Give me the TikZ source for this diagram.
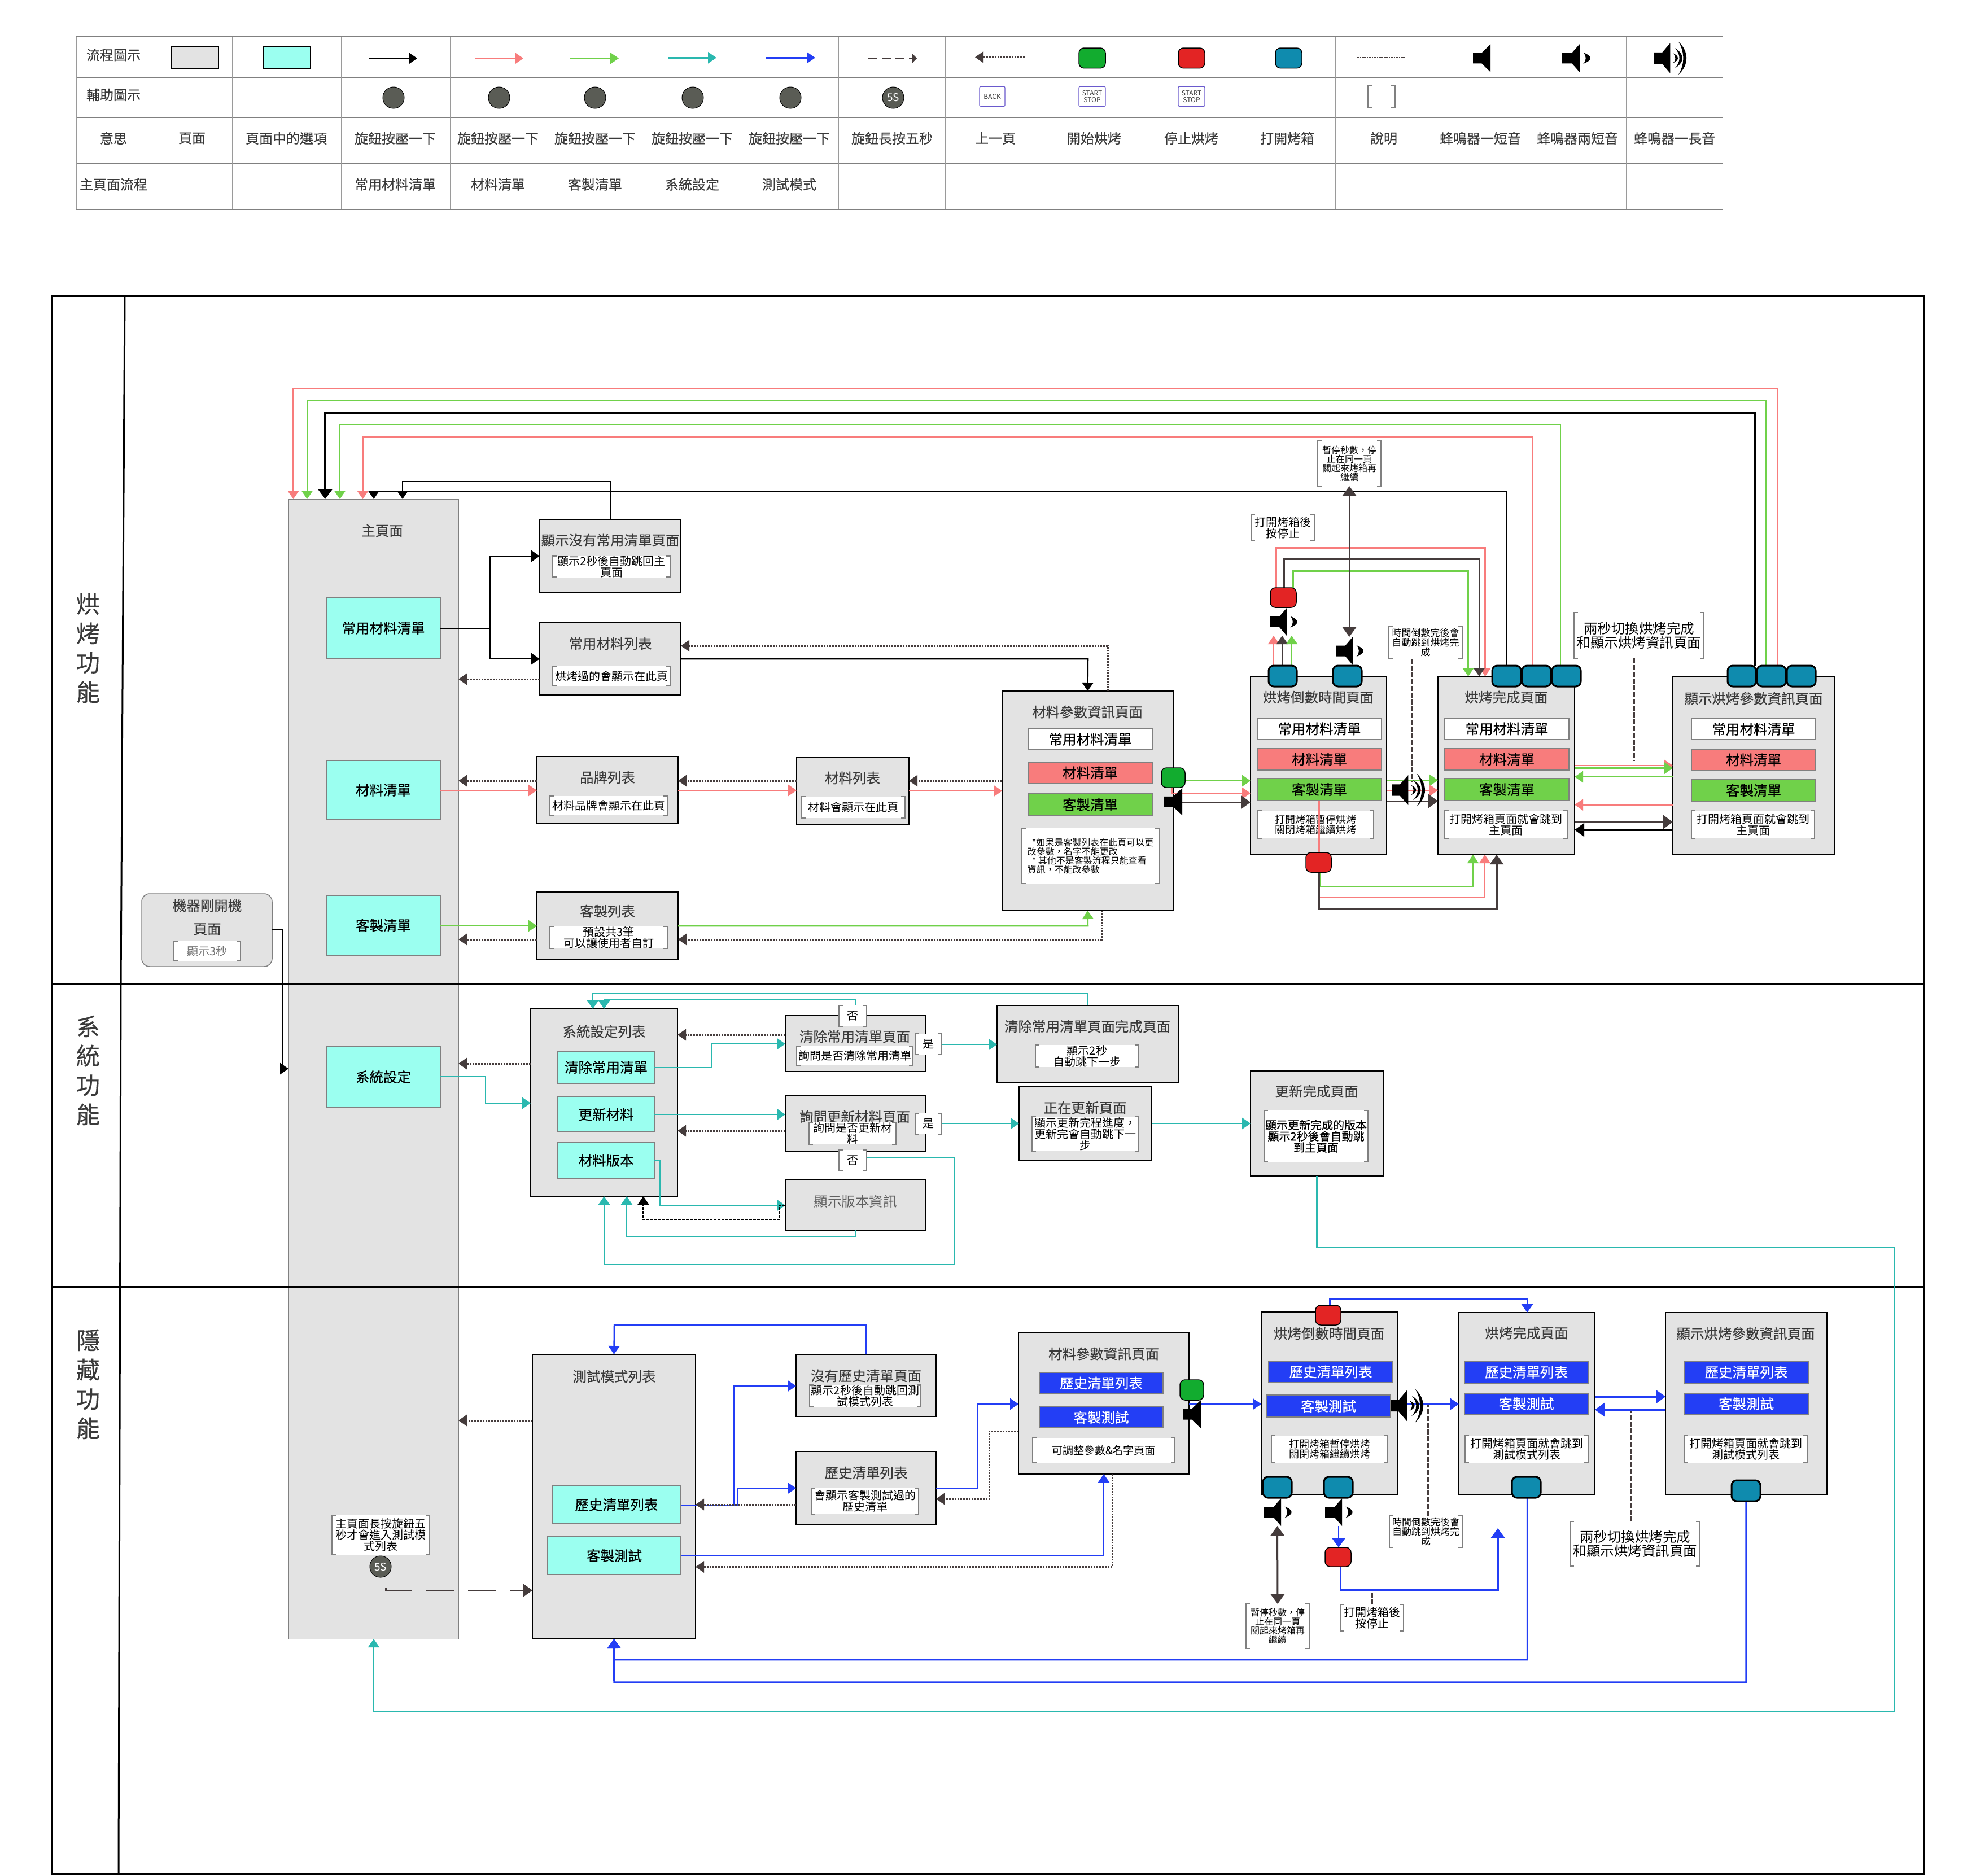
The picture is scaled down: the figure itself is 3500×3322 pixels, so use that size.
\documentclass[tikz,border=0pt]{standalone}
\usepackage{fontspec}
\setmainfont{Noto Sans CJK TC}
\newfontfamily\medf[FakeBold=0.45]{Noto Sans CJK TC}
\newfontfamily\ttlf[FakeBold=0.15]{Noto Sans CJK TC}
\usetikzlibrary{arrows.meta,calc}
\pgfdeclarelayer{fg}\pgfsetlayers{main,fg}
\definecolor{pinkc}{HTML}{F87C7C}
\definecolor{greenc}{HTML}{70D14A}
\definecolor{tealc}{HTML}{2AB8AF}
\definecolor{bluec}{HTML}{233EF5}
\definecolor{darkc}{HTML}{453C3C}
\definecolor{pagec}{HTML}{E3E3E3}
\definecolor{cyanc}{HTML}{9BFFF0}
\definecolor{btngreen}{HTML}{12AC2F}
\definecolor{btnred}{HTML}{E32424}
\definecolor{btnteal}{HTML}{0F8BAE}
\definecolor{inkc}{HTML}{3A3A3A}
\definecolor{linec}{HTML}{808080}
\definecolor{knobc}{HTML}{5A5C55}
\definecolor{purplec}{HTML}{6A5ACD}
\newcommand\fs[1]{\fontsize{#1}{#1}\selectfont\lineskiplimit=-50pt\relax}
\newcommand\bx[7]{%
  \pgfmathsetmacro\bw{#5-#3}\pgfmathsetmacro\bh{#6-#4}%
  \pgfmathsetmacro\bxc{(#3+#5)/2}\pgfmathsetmacro\byc{(#4+#6)/2}%
  \node[#1,minimum width=\bw pt,minimum height=\bh pt] (#2) at (\bxc,\byc) {#7};}
\newcommand\nt[7]{%
  \bx{notebx,#1}{#2}{#3}{#4}{#5}{#6}{#7}%
  \draw[brk] (#2.north west) ++(7,0) -- ++(-7,0) -- (#2.south west) -- ++(7,0);%
  \draw[brk] (#2.north east) ++(-7,0) -- ++(7,0) -- (#2.south east) -- ++(-7,0);}
\newcommand\fgbtn[6]{\begin{pgfonlayer}{fg}\bx{#1}{#2}{#3}{#4}{#5}{#6}{}\end{pgfonlayer}}
\newcommand\spk[6]{%
  \pgfmathsetmacro\sw{#5-#3}\pgfmathsetmacro\sh{#6-#4}%
  \pgfmathsetmacro\scx{(#3+#5)/2}\pgfmathsetmacro\scy{(#4+#6)/2}%
  \node[minimum width=\sw pt,minimum height=\sh pt] (#2) at (\scx,\scy) {};%
  \begin{pgfonlayer}{fg}\begin{scope}[shift={(#3,#4)},x=\sw pt,y=-\sh pt]%
  \ifcase#1\or
    \fill[black] (0,.31)--(.5,.31)--(1,0)--(1,1)--(.5,.69)--(0,.69)--cycle;
  \or
    \fill[black] (0,.31)--(.36,.31)--(.64,0)--(.64,1)--(.36,.69)--(0,.69)--cycle;
    \fill[black] (.78,.3) .. controls (1.12,.42) and (1.12,.58) .. (.78,.7) .. controls (.9,.58) and (.9,.42) .. (.78,.3);
  \or
    \fill[black] (0,.33)--(.24,.33)--(.48,.05)--(.48,.95)--(.24,.67)--(0,.67)--cycle;
    \fill[black] (.56,.35) .. controls (.76,.44) and (.76,.56) .. (.56,.65) .. controls (.66,.56) and (.66,.44) .. (.56,.35);
    \fill[black] (.62,.2) .. controls (.92,.38) and (.92,.62) .. (.62,.8) .. controls (.8,.62) and (.8,.38) .. (.62,.2);
    \fill[black] (.72,0) .. controls (1.05,.3) and (1.05,.7) .. (.72,1) .. controls (.92,.7) and (.92,.3) .. (.72,0);
  \fi
  \end{scope}\end{pgfonlayer}}
\newcommand\lgd[5]{\coordinate (#2a) at (#3,#5);\coordinate (#2b) at (#4,#5);\draw[#1] (#2a) -- (#2b);}
\begin{document}
\begin{tikzpicture}[x=1pt,y=-1pt,
  every node/.style={inner sep=0pt,outer sep=0pt,align=center},
  >={Triangle[length=15pt,width=20pt]},
  f16/.style={font=\fs{16}}, f17/.style={font=\fs{17}}, f18/.style={font=\fs{18}},
  f19/.style={font=\fs{19}}, f20/.style={font=\fs{20}},
  ttl/.style={font=\fs{24.5}\ttlf,text=inkc},
  cell/.style={font=\fs{24}\ttlf,text=inkc},
  pageb/.style={fill=pagec,draw=black,line width=1.5pt},
  mainb/.style={fill=pagec,draw=linec,line width=1pt},
  itemb/.style={fill=cyanc,draw=linec,line width=1.5pt,font=\fs{24.5}\medf,text=black},
  wht/.style={fill=white,draw=linec,line width=1.5pt,font=\fs{24.5}\medf,text=black},
  rdi/.style={fill=pinkc,draw=linec,line width=1.5pt,font=\fs{24.5}\medf,text=black},
  gri/.style={fill=greenc,draw=linec,line width=1.5pt,font=\fs{24.5}\medf,text=black},
  bli/.style={fill=bluec,draw=linec,line width=1.5pt,font=\fs{24.5}\medf,text=white},
  notebx/.style={fill=white,text=black},
  brk/.style={draw=linec,line width=2.5pt},
  btng/.style={fill=btngreen,draw=black,line width=1.5pt,rounded corners=9pt},
  btnr/.style={fill=btnred,draw=black,line width=1.5pt,rounded corners=9pt},
  btnt/.style={fill=btnteal,draw=black,line width=3pt,rounded corners=9pt},
  knob/.style={circle,fill=knobc,draw=black,line width=1pt,minimum size=38pt,text=white,font=\fs{19}},
  keyb/.style={fill=white,draw=purplec,line width=1.2pt,rounded corners=2pt,font=\fs{12},text=inkc},
  pk/.style={draw=pinkc,line width=2.5pt,->},
  gn/.style={draw=greenc,line width=2.5pt,->},
  bk/.style={draw=black,line width=2.5pt,->},
  dk/.style={draw=darkc,line width=3pt,->},
  tl/.style={draw=tealc,line width=2.5pt,->},
  bu/.style={draw=bluec,line width=2.5pt,->},
  dt/.style={draw=darkc,line width=3pt,dash pattern=on 3pt off 2pt,->},
  dsl/.style={draw=darkc,line width=3pt,dash pattern=on 9pt off 3pt},
  big/.style={>={Triangle[length=17pt,width=24pt]}},
]
\useasboundingbox (0,0) rectangle (3500,3322);
\fill[white] (0,0) rectangle (3500,3322);

% ---------- legend table
\foreach \yy in {65.3,138.3,208.3,290.3,371.3} \draw[linec,line width=1.8pt] (135,\yy) -- (3051,\yy);
\foreach \xx in {135,269,411,604,797,968,1140,1312,1485,1674,1852,2024,2196,2365,2536,2708,2880,3051}
  \draw[linec!80,line width=1pt] (\xx,65.3) -- (\xx,371.3);
\node[cell] (r1h) at (201,97.3) {流程圖示};
\node[cell] (r2h) at (201,168) {輔助圖示};
\foreach \xx/\tt [count=\i] in {201/意思,340/頁面,507/頁面中的選項,700/旋鈕按壓一下,882/旋鈕按壓一下,1054/旋鈕按壓一下,1226/旋鈕按壓一下,1398/旋鈕按壓一下,1580/旋鈕長按五秒,1763/上一頁,1938/開始烘烤,2110/停止烘烤,2280/打開烤箱,2451/說明,2622/蜂鳴器一短音,2794/蜂鳴器兩短音,2966/蜂鳴器一長音}
  \node[cell] (r3c\i) at (\xx,245) {\tt};
\foreach \xx/\tt [count=\i] in {201/主頁面流程,700/常用材料清單,882/材料清單,1054/客製清單,1226/系統設定,1398/測試模式}
  \node[cell] (r4c\i) at (\xx,326.7) {\tt};
\bx{pageb}{lgPage}{304}{82.3}{387}{121.7}{}
\bx{itemb,draw=black}{lgItem}{467}{82.3}{550}{121.7}{}
\lgd{bk}{lA}{653}{739}{103.3}
\lgd{pk}{lB}{841}{927}{103.3}
\lgd{gn}{lC}{1010}{1096}{103.3}
\lgd{tl}{lD}{1183}{1269}{102.3}
\lgd{bu}{lE}{1357}{1444}{102.3}
\lgd{draw=darkc,line width=2pt,dash pattern=on 16pt off 8pt,->,>={Triangle[length=8pt,width=16pt]}}{lF}{1538}{1624}{103.3}
\lgd{dt}{lG}{1815}{1727}{101.3}
\lgd{draw=darkc,line width=2pt,dash pattern=on 2pt off 1pt}{lH}{2403}{2490}{102.3}
\foreach \xx [count=\i] in {697,884,1054,1227,1400}
  \node[knob] (lk\i) at (\xx,173) {};
\node[knob] (lk6) at (1582,173) {5S};
\bx{btng}{lgGo}{1911}{85}{1958}{120.7}{}
\bx{btnr}{lgStop}{2087}{85}{2134}{120.7}{}
\bx{btnt,line width=1.5pt}{lgOpen}{2259}{85}{2306}{120.7}{}
\bx{keyb}{kBack}{1735}{153.3}{1780}{188.3}{BACK}
\bx{keyb}{kStart}{1911}{153.3}{1958}{188.3}{START\\STOP}
\bx{keyb}{kStop}{2087}{153.3}{2134}{188.3}{START\\STOP}
\nt{f20}{lgNote}{2423}{151}{2471}{190.7}{}
\spk{1}{lgS1}{2609}{78.3}{2640}{127.7}
\spk{2}{lgS2}{2767}{78.3}{2815}{127.7}
\spk{3}{lgS3}{2930}{73.3}{2989}{132.7}

% ---------- main page and lanes
\bx{mainb}{main}{511}{884}{812}{2903}{}
\draw[black,line width=3pt] (91.5,524) rectangle (3408,3319);
\draw[black,line width=3pt] (221,524) -- (214,1743) -- (210,3319);
\draw[black,line width=3pt] (91.5,1743) -- (3408,1743);
\draw[black,line width=3pt] (91.5,2279) -- (3408,2279);
\node[font=\fs{42}\ttlf,text=inkc] (lane1) at (156,1148) {烘\\[10pt]烤\\[10pt]功\\[10pt]能};
\node[font=\fs{42}\ttlf,text=inkc] (lane2) at (156,1896) {系\\[10pt]統\\[10pt]功\\[10pt]能};
\node[font=\fs{42}\ttlf,text=inkc] (lane3) at (156,2452) {隱\\[10pt]藏\\[10pt]功\\[10pt]能};

\node[ttl] (mainT) at (677,940) {主頁面};
\bx{itemb}{i1}{578}{1059}{780}{1166}{常用材料清單}
\bx{itemb}{i2}{578}{1347}{780}{1452}{材料清單}
\bx{itemb}{i3}{578}{1586}{780}{1692}{客製清單}
\bx{itemb}{i4}{578}{1854}{780}{1961}{系統設定}

\bx{pageb,rounded corners=14pt,draw=linec}{boot}{251}{1583}{482}{1712}{}
\node[ttl] (bootT) at (367,1646) {頁面};
\node[ttl] (bootU) at (367,1604) {機器剛開機};
\nt{f20,text=inkc!70}{bootN}{308}{1667}{426}{1702}{顯示3秒}

% ---------- section 1 pages
\bx{pageb}{pa}{956}{920}{1206}{1049}{}
\node[ttl] (paT) at (1081,957) {顯示沒有常用清單頁面};
\nt{f20}{paN}{979}{985}{1187}{1022}{顯示2秒後自動跳回主\\頁面}
\bx{pageb}{pb}{956}{1102}{1206}{1231}{}
\node[ttl] (pbT) at (1081,1140) {常用材料列表};
\nt{f20}{pbN}{979}{1180}{1187}{1215}{烘烤過的會顯示在此頁}
\bx{pageb}{pc}{951}{1340}{1201}{1459}{}
\node[ttl] (pcT) at (1076,1377) {品牌列表};
\nt{f20}{pcN}{974}{1410}{1182}{1444}{材料品牌會顯示在此頁}
\bx{pageb}{pd}{1411}{1342}{1610}{1460}{}
\node[ttl] (pdT) at (1510,1378) {材料列表};
\nt{f20}{pdN}{1420}{1411}{1603}{1449}{材料會顯示在此頁}
\bx{pageb}{pe}{951}{1580}{1201}{1699}{}
\node[ttl] (peT) at (1076,1614) {客製列表};
\nt{f20}{peN}{974}{1643}{1182}{1678}{預設共3筆\\可以讓使用者自訂}

\bx{pageb}{mp}{1775}{1224}{2078}{1613}{}
\node[ttl] (mpT) at (1926,1261) {材料參數資訊頁面};
\bx{wht}{mp1}{1821}{1291}{2041}{1328}{常用材料清單}
\bx{rdi}{mp2}{1821}{1350}{2041}{1388}{材料清單}
\bx{gri}{mp3}{1821}{1406}{2041}{1445}{客製清單}
\nt{f16,align=left}{mpN}{1810}{1467}{2053}{1565}{\hspace*{8pt}*如果是客製列表在此頁可以更\\改參數，名字不能更改\\\hspace*{8pt}*\ 其他不是客製流程只能查看\\資訊，不能改參數}

\bx{pageb}{cd}{2215}{1198}{2456}{1514}{}
\node[ttl] (cdT) at (2335,1235) {烘烤倒數時間頁面};
\bx{wht}{cd1}{2227}{1272}{2447}{1310}{常用材料清單}
\bx{rdi}{cd2}{2227}{1326}{2447}{1364}{材料清單}
\bx{gri}{cd3}{2227}{1379}{2447}{1418}{客製清單}
\nt{f18}{cdN}{2228}{1436}{2433}{1485}{打開烤箱暫停烘烤\\關閉烤箱繼續烘烤}

\bx{pageb}{fin}{2547}{1198}{2789}{1514}{}
\node[ttl] (finT) at (2668,1235) {烘烤完成頁面};
\bx{wht}{fin1}{2559}{1272}{2779}{1310}{常用材料清單}
\bx{rdi}{fin2}{2559}{1326}{2779}{1364}{材料清單}
\bx{gri}{fin3}{2559}{1379}{2779}{1418}{客製清單}
\nt{f20}{finN}{2559}{1436}{2776}{1485}{打開烤箱頁面就會跳到\\主頁面}

\bx{pageb}{dsp}{2963}{1199}{3249}{1514}{}
\node[ttl] (dspT) at (3106,1237) {顯示烘烤參數資訊頁面};
\bx{wht}{dsp1}{2996}{1273}{3216}{1310}{常用材料清單}
\bx{rdi}{dsp2}{2996}{1327}{3216}{1365}{材料清單}
\bx{gri}{dsp3}{2996}{1381}{3216}{1419}{客製清單}
\nt{f20}{dspN}{2996}{1436}{3214}{1485}{打開烤箱頁面就會跳到\\主頁面}

\nt{f16}{nPause}{2334}{781}{2446}{861}{暫停秒數，停\\止在同一頁\\關起來烤箱再\\繼續}
\nt{f20}{nOpen}{2216}{911}{2328}{958}{打開烤箱後\\按停止}
\nt{f17}{nTime}{2460}{1109}{2590}{1167}{時間倒數完後會\\自動跳到烘烤完\\成}
\nt{font=\fs{24.5}}{nTwo}{2788}{1085}{3018}{1166}{兩秒切換烘烤完成\\和顯示烘烤資訊頁面}

\fgbtn{btng}{bGo}{2057}{1360}{2099}{1395}
\fgbtn{btnr}{rU}{2250}{1041}{2296}{1076}
\fgbtn{btnr}{rL}{2313}{1510}{2358}{1545}
\fgbtn{btnt}{tC1}{2247}{1179}{2297}{1216}
\fgbtn{btnt}{tC2}{2361}{1179}{2412}{1216}
\fgbtn{btnt}{tF1}{2643}{1179}{2694}{1216}
\fgbtn{btnt}{tF2}{2696}{1179}{2747}{1216}
\fgbtn{btnt}{tF3}{2749}{1179}{2800}{1216}
\fgbtn{btnt}{tD1}{3060}{1179}{3110}{1216}
\fgbtn{btnt}{tD2}{3112}{1179}{3163}{1216}
\fgbtn{btnt}{tD3}{3165}{1179}{3216}{1216}
\spk{1}{sMp}{2062}{1396}{2094}{1444}
\spk{2}{sOp}{2249}{1077}{2296}{1126}
\spk{2}{sCl}{2366}{1128}{2413}{1178}
\spk{3}{sCd}{2465}{1370}{2526}{1429}

% ---------- section 1 connectors
\draw[pk] (tD2.north -| 3149,0) -- (3149,688) -- (519.5,688) -- (main.north -| 519.5,0);
\draw[gn] (tD2.north -| 3128,0) -- (3128,710) -- (544,710) -- (main.north -| 544,0);
\draw[big,bk,line width=4pt] (tD1.north -| 3108,0) -- (3108,731) -- (576,731) -- (main.north -| 576,0);
\draw[gn] (tF3.north -| 2764,0) -- (2764,752) -- (602,752) -- (main.north -| 602,0);
\draw[pk] (tF2.north -| 2715,0) -- (2715,773.5) -- (642.6,773.5) -- (main.north -| 642.6,0);
\draw[bk] (tF1.north -| 2669,0) -- (2669,870) -- (662,870) -- (main.north -| 662,0);
\draw[bk] (pa.north) -- (1081,853) -- (713,853) -- (main.north -| 713,0);
\draw[bk] (i1.east |- 0,1113) -- (868,1113) -- (868,985) -- (pa.west |- 0,985);
\draw[bk] (i1.east |- 0,1113) -- (868,1113) -- (868,1167) -- (pb.west |- 0,1167);
\draw[dt] (pb.west |- 0,1203) -- (main.east |- 0,1203);
\draw[pk] (i2.east |- 0,1400) -- (pc.west |- 0,1400);
\draw[dt] (pc.west |- 0,1383) -- (main.east |- 0,1383);
\draw[pk] (pc.east |- 0,1400) -- (pd.west |- 0,1400);
\draw[dt] (pd.west |- 0,1383) -- (pc.east |- 0,1383);
\draw[pk] (pd.east |- 0,1401) -- (mp.west |- 0,1401);
\draw[dt] (mp.west |- 0,1383) -- (pd.east |- 0,1383);
\draw[gn] (i3.east |- 0,1640) -- (pe.west |- 0,1640);
\draw[dt] (pe.west |- 0,1664) -- (main.east |- 0,1664);
\draw[gn] (pe.east |- 0,1640) -- (1927,1640) -- (mp.south);
\draw[dt] (mp.south -| 1951,0) -- (1951,1664) -- (pe.east |- 0,1664);
\draw[bk] (pb.east |- 0,1167) -- (1927,1167) -- (mp.north);
\draw[dt] (mp.north -| 1962,0) -- (1962,1144) -- (pb.east |- 0,1144);
\draw[bk] (boot.east |- 0,1647) -- (500,1647) -- (500,1893) -- (main.west |- 0,1893);

\draw[gn] (bGo.east |- 0,1383) -- (cd.west |- 0,1383);
\draw[pk] (bGo.south -| 2076,0) -- (2076,1405) -- (cd.west |- 0,1405);
\draw[big,dk] (sMp.east |- 0,1421) -- (cd.west |- 0,1421);
\draw[pk,line width=3pt] (rU.north -| 2260.6,0) -- (2260.6,970) -- (2630.5,970) -- (fin.north -| 2630.5,0);
\draw[dk] (rU.north -| 2274,0) -- (2274,990) -- (2620,990) -- (fin.north -| 2620,0);
\draw[gn,line width=3pt] (rU.north -| 2290.6,0) -- (2290.6,1011) -- (2600.5,1011) -- (fin.north -| 2600.5,0);
\draw[pk] (tC1.north -| 2256,0) -- (sOp.south -| 2256,0);
\draw[dk] (tC1.north -| 2271,0) -- (sOp.south -| 2271,0);
\draw[gn] (tC1.north -| 2288,0) -- (sOp.south -| 2288,0);
\draw[big,dk,<->] (nPause.south) -- (sCl.north -| nPause.south);
\draw[dsl] (nTime.south -| 2500,0) -- (2500,1385);
\draw[gn] (cd.east |- 0,1382) -- (fin.west |- 0,1382);
\draw[pk] (cd.east |- 0,1400) -- (fin.west |- 0,1400);
\draw[big,dk] (cd.east |- 0,1419) -- (fin.west |- 0,1419);
\draw[pinkc,line width=2.5pt] (cd3.south -| 2336.5,0) -- (rL.north -| 2336.5,0);
\draw[gn] (rL.south -| 2338,0) -- (2338,1570) -- (2609,1570) -- (fin.south -| 2609,0);
\draw[pk] (rL.south -| 2336.5,0) -- (2336.5,1590) -- (2630,1590) -- (fin.south -| 2630,0);
\draw[big,dk] (rL.south -| 2336.5,0) -- (2336.5,1610) -- (2651,1610) -- (fin.south -| 2651,0);
\draw[dsl] (nTwo.south -| 2894,0) -- (2894,1348);
\draw[pk] (fin.east |- 0,1356) -- (dsp.west |- 0,1356);
\draw[gn,line width=3pt] (fin.east |- 0,1360.6) -- (dsp.west |- 0,1360.6);
\draw[gn] (dsp.west |- 0,1376) -- (fin.east |- 0,1376);
\draw[pk] (dsp.west |- 0,1425.5) -- (fin.east |- 0,1425.5);
\draw[big,dk] (fin.east |- 0,1456) -- (dsp.west |- 0,1456);
\draw[big,bk,line width=3pt] (dsp.west |- 0,1470) -- (fin.east |- 0,1470);

% ---------- section 2 pages
\bx{pageb}{sl}{940}{1787}{1200}{2119}{}
\node[ttl] (slT) at (1070,1827) {系統設定列表};
\bx{itemb}{s1}{988}{1862}{1159}{1919}{清除常用清單}
\bx{itemb}{s2}{988}{1943}{1159}{2005}{更新材料}
\bx{itemb}{s3}{988}{2024}{1159}{2087}{材料版本}
\bx{pageb}{qa}{1391}{1799}{1639}{1898}{}
\node[ttl] (qaT) at (1514,1836) {清除常用清單頁面};
\nt{f20}{qaN}{1411}{1853}{1617}{1887}{詢問是否清除常用清單}
\nt{f20}{qaY}{1621}{1831}{1668}{1868}{是}
\nt{f20}{qaX}{1486}{1781}{1535}{1818}{否}
\bx{pageb}{qb}{1766}{1781}{2088}{1918}{}
\node[ttl] (qbT) at (1926,1818) {清除常用清單頁面完成頁面};
\nt{f20}{qbN}{1834}{1851}{2017}{1890}{顯示2秒\\自動跳下一步}
\bx{pageb}{qc}{1391}{1940}{1639}{2039}{}
\node[ttl] (qcT) at (1514,1978) {詢問更新材料頁面};
\nt{f20}{qcN}{1433}{1990}{1587}{2025}{詢問是否更新材\\料}
\nt{f20}{qcY}{1621}{1972}{1668}{2009}{是}
\nt{f20}{qcX}{1486}{2037}{1535}{2074}{否}
\bx{pageb}{qd}{1805}{1925}{2040}{2055}{}
\node[ttl] (qdT) at (1922,1962) {正在更新頁面};
\nt{f20}{qdN}{1828}{1978}{2017}{2039}{顯示更新完程進度，\\更新完會自動跳下一\\步}
\bx{pageb}{qe}{2215}{1897}{2450}{2083}{}
\node[ttl] (qeT) at (2332,1933) {更新完成頁面};
\nt{font=\fs{20}\medf}{qeN}{2239}{1967}{2423}{2058}{顯示更新完成的版本\\顯示2秒後會自動跳\\到主頁面}
\bx{pageb}{qf}{1391}{2090}{1639}{2179}{}
\node[ttl,text=inkc!80,font=\fs{24.5}\rmfamily] (qfT) at (1515,2128) {顯示版本資訊};

% ---------- section 2 connectors
\draw[dt] (sl.west |- 0,1884) -- (main.east |- 0,1884);
\draw[tl] (i4.east |- 0,1907) -- (860,1907) -- (860,1954) -- (sl.west |- 0,1954);
\draw[tl] (qb.north) -- (1927,1760) -- (1050,1760) -- (sl.north -| 1050,0);
\draw[tl] (qaX.north -| 1515,0) -- (1515,1770) -- (1070,1770) -- (sl.north);
\draw[dt] (qa.west |- 0,1833) -- (sl.east |- 0,1833);
\draw[tl] (s1.east |- 0,1891) -- (1260,1891) -- (1260,1849) -- (qa.west |- 0,1849);
\draw[tl] (qaY.east |- 0,1850) -- (qb.west |- 0,1850);
\draw[tl] (s2.east |- 0,1974) -- (qc.west |- 0,1974);
\draw[dt] (qc.west |- 0,2003) -- (sl.east |- 0,2003);
\draw[tl] (qcY.east |- 0,1990) -- (qd.west |- 0,1990);
\draw[tl] (qd.east |- 0,1990) -- (qe.west |- 0,1990);
\draw[tl] (s3.east |- 0,2055) -- (1169,2055) -- (1169,2135) -- (qf.west |- 0,2135);
\draw[draw=black,line width=2.5pt,dash pattern=on 5pt off 2pt,->] (qf.west |- 0,2135) -- (1380,2135) -- (1380,2160) -- (1139.5,2160) -- (sl.south -| 1139.5,0);
\draw[tl] (qf.south) -- (1515,2190) -- (1110,2190) -- (sl.south -| 1110,0);
\draw[tl] (qcX.east |- 0,2050) -- (1690,2050) -- (1690,2240) -- (1070,2240) -- (sl.south);

% ---------- section 3 pages
\bx{pageb}{tm}{943}{2399}{1232}{2903}{}
\node[ttl] (tmT) at (1088,2438) {測試模式列表};
\bx{itemb}{t1}{978}{2632}{1206}{2699}{歷史清單列表}
\bx{itemb}{t2}{970}{2722}{1206}{2789}{客製測試}
\bx{pageb}{ha}{1410}{2399}{1658}{2509}{}
\node[ttl] (haT) at (1534,2437) {沒有歷史清單頁面};
\nt{f20}{haN}{1434}{2455}{1631}{2490}{顯示2秒後自動跳回測\\試模式列表}
\bx{pageb}{hb}{1410}{2571}{1658}{2700}{}
\node[ttl] (hbT) at (1534,2609) {歷史清單列表};
\nt{f20}{hbN}{1437}{2636}{1627}{2682}{會顯示客製測試過的\\歷史清單}
\nt{f20}{nLong}{588}{2684}{761}{2754}{主頁面長按旋鈕五\\秒才會進入測試模\\式列表}
\node[knob] (five) at (674,2775) {5S};

\bx{pageb}{mq}{1804}{2361}{2106}{2611}{}
\node[ttl] (mqT) at (1955,2398) {材料參數資訊頁面};
\bx{bli}{mq1}{1841}{2431}{2060}{2469}{歷史清單列表}
\bx{bli}{mq2}{1841}{2492}{2060}{2529}{客製測試}
\nt{f19}{mqN}{1829}{2547}{2081}{2591}{可調整參數\&名字頁面}

\bx{pageb}{cq}{2234}{2324}{2476}{2648}{}
\node[ttl] (cqT) at (2354,2362) {烘烤倒數時間頁面};
\bx{bli}{cq1}{2247}{2411}{2467}{2449}{歷史清單列表}
\bx{bli}{cq2}{2243}{2471}{2463}{2510}{客製測試}
\nt{f18}{cqN}{2252}{2543}{2458}{2591}{打開烤箱暫停烘烤\\關閉烤箱繼續烘烤}

\bx{pageb}{fq}{2584}{2325}{2825}{2648}{}
\node[ttl] (fqT) at (2704,2361) {烘烤完成頁面};
\bx{bli}{fq1}{2594}{2411}{2813}{2450}{歷史清單列表}
\bx{bli}{fq2}{2594}{2468}{2813}{2505}{客製測試}
\nt{f20}{fqN}{2595}{2543}{2813}{2591}{打開烤箱頁面就會跳到\\測試模式列表}

\bx{pageb}{dq}{2950}{2325}{3236}{2648}{}
\node[ttl] (dqT) at (3092,2362) {顯示烘烤參數資訊頁面};
\bx{bli}{dq1}{2983}{2411}{3203}{2450}{歷史清單列表}
\bx{bli}{dq2}{2983}{2468}{3203}{2505}{客製測試}
\nt{f20}{dqN}{2983}{2543}{3201}{2591}{打開烤箱頁面就會跳到\\測試模式列表}

\nt{f16}{nPause2}{2207}{2841}{2319}{2920}{暫停秒數，停\\止在同一頁\\關起來烤箱再\\繼續}
\nt{f20}{nOpen2}{2374}{2842}{2486}{2889}{打開烤箱後\\按停止}
\nt{f17}{nTime2}{2461}{2685}{2590}{2741}{時間倒數完後會\\自動跳到烘烤完\\成}
\nt{font=\fs{24.5}}{nTwo2}{2781}{2695}{3011}{2774}{兩秒切換烘烤完成\\和顯示烘烤資訊頁面}

\fgbtn{btng}{gQ}{2090}{2444}{2132}{2480}
\fgbtn{btnr}{rT}{2330}{2312}{2375}{2347}
\fgbtn{btnr}{rB}{2347}{2741}{2393}{2775}
\fgbtn{btnt}{tQ1}{2237}{2616}{2288}{2653}
\fgbtn{btnt}{tQ2}{2345}{2616}{2396}{2653}
\fgbtn{btnt}{tQ3}{2678}{2616}{2729}{2653}
\fgbtn{btnt}{tQ4}{3067}{2622}{3118}{2659}
\spk{1}{sQ}{2095}{2480}{2127}{2530}
\spk{2}{sA}{2239}{2654}{2286}{2703}
\spk{2}{sB}{2347}{2654}{2394}{2703}
\spk{3}{sL}{2463}{2460}{2523}{2520}

% ---------- section 3 connectors
\draw[dt] (tm.west |- 0,2516) -- (main.east |- 0,2516);
\coordinate (dashS) at (683.7,2812);
\draw[big,draw=darkc,line width=3pt,dash pattern=on 50pt off 25pt,->] (dashS) -- (683.7,2817) -- (tm.west |- 0,2817);
\draw[bu] (ha.north) -- (1534,2347) -- (1088,2347) -- (tm.north);
\draw[bu] (t1.east |- 0,2666) -- (1300,2666) -- (1300,2455) -- (ha.west |- 0,2455);
\draw[bu] (t1.east |- 0,2666) -- (1307,2666) -- (1307,2636) -- (hb.west |- 0,2636);
\draw[dt] (hb.west |- 0,2665) -- (tm.east |- 0,2665);
\draw[bu] (hb.east |- 0,2636) -- (1731,2636) -- (1731,2487) -- (mq.west |- 0,2487);
\draw[dt] (mq.west |- 0,2535) -- (1752,2535) -- (1752,2655) -- (hb.east |- 0,2655);
\draw[bu] (t2.east |- 0,2755) -- (1955,2755) -- (mq.south);
\draw[dt] (mq.south -| 1970,0) -- (1970,2775.5) -- (tm.east |- 0,2775.5);
\draw[bu] (mq.east |- 0,2487) -- (cq.west |- 0,2487);
\draw[bu] (cq.east |- 0,2487) -- (fq.west |- 0,2487);
\draw[dsl] (nTime2.north -| 2529,0) -- (2529,2488);
\draw[bu,line width=3pt] (rT.north -| 2355,0) -- (2355,2300) -- (2705,2300) -- (fq.north -| 2705,0);
\draw[big,dk,<->] (sA.south) -- (nPause2.north);
\draw[big,bu] (sB.south -| 2371,0) -- (rB.north -| 2371,0);
\coordinate (fqTip) at (2653,2707);
\draw[big,bu,line width=3pt] (rB.south -| 2374,0) -- (2374,2816) -- (2653,2816) -- (fqTip);
\draw[dsl] (nOpen2.north -| 2430,0) -- (2430,2818);
\draw[big,bu,line width=3pt] (fq.east |- 0,2474) -- (dq.west |- 0,2474);
\draw[big,bu,line width=3pt] (dq.west |- 0,2497) -- (fq.east |- 0,2497);
\draw[dsl] (nTwo2.north -| 2889,0) -- (2889,2499);
\draw[big,bu] (tQ3.south -| 2705,0) -- (2705,2940) -- (1088,2940) -- (tm.south);
\draw[big,bu,line width=3.5pt] (tQ4.south -| 3093,0) -- (3093,2980) -- (1088,2980) -- (tm.south);
\draw[tl] (qe.south) -- (2332.5,2210) -- (3355,2210) -- (3355,3031) -- (662,3031) -- (main.south -| 662,0);
\end{tikzpicture}
\end{document}
